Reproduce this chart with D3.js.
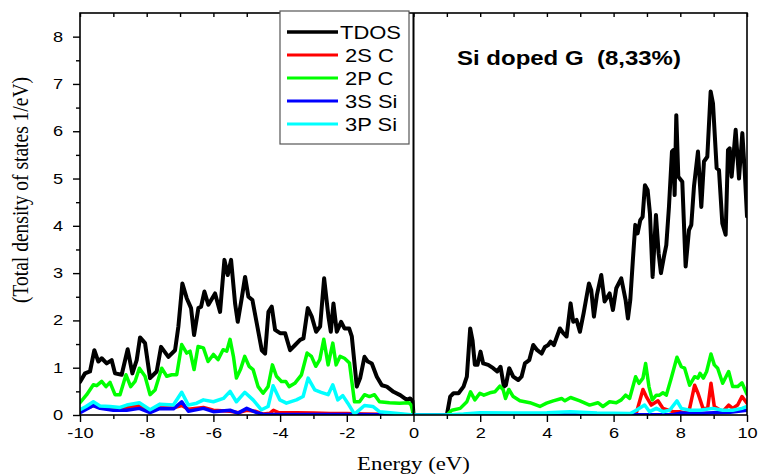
<!DOCTYPE html>
<html>
<head>
<meta charset="utf-8">
<script src="https://cdn.jsdelivr.net/npm/d3@7"></script>
<style>
  html, body { margin: 0; padding: 0; background: #fff; }
  svg { display: block; }
</style>
</head>
<body>
<svg id="chart" width="758" height="475"></svg>
<script>
// ---------- DATA ----------
const seriesNames = ["TDOS", "2S C", "2P C", "3S Si", "3P Si"];
const seriesColors = ["#000000", "#ff0000", "#00ff00", "#0000ff", "#00ffff"];

const tdosE = [-10,-9.85,-9.7,-9.57,-9.45,-9.35,-9.2,-9.05,-8.95,-8.75,-8.57,-8.43,-8.3,-8.2,-8.05,-7.9,-7.7,-7.57,-7.35,-7.15,-7.05,-6.93,-6.8,-6.67,-6.58,-6.45,-6.37,-6.27,-6.15,-5.95,-5.8,-5.67,-5.57,-5.47,-5.35,-5.27,-5.15,-5.05,-4.95,-4.83,-4.7,-4.55,-4.45,-4.35,-4.25,-4.15,-4.0,-3.85,-3.7,-3.55,-3.4,-3.3,-3.17,-3.05,-2.92,-2.8,-2.68,-2.55,-2.48,-2.4,-2.3,-2.17,-2.07,-1.93,-1.85,-1.7,-1.6,-1.47,-1.37,-1.25,-1.1,-0.95,-0.8,-0.6,-0.4,-0.2,-0.1,-0.03,0,1.0,1.1,1.2,1.35,1.5,1.6,1.7,1.77,1.84,1.92,2.01,2.09,2.24,2.39,2.51,2.61,2.71,2.77,2.87,2.99,3.14,3.24,3.34,3.47,3.59,3.71,3.84,3.94,4.04,4.11,4.21,4.39,4.49,4.59,4.71,4.79,4.89,4.99,5.1,5.26,5.33,5.41,5.5,5.63,5.73,5.88,5.98,6.08,6.23,6.36,6.43,6.5,6.58,6.65,6.72,6.8,6.87,6.94,7.02,7.09,7.17,7.27,7.35,7.42,7.51,7.58,7.66,7.75,7.79,7.83,7.88,7.94,8.06,8.16,8.26,8.33,8.41,8.53,8.63,8.71,8.81,8.91,8.98,9.09,9.16,9.26,9.36,9.43,9.48,9.54,9.66,9.76,9.86,9.93,10];
const tdosV = [0.70,0.88,0.92,1.37,1.13,1.2,1.09,1.16,0.88,0.85,1.39,0.88,1.16,1.64,1.52,0.78,0.92,1.44,1.23,1.37,1.87,2.78,2.47,2.26,1.69,2.26,2.29,2.61,2.33,2.57,2.18,3.28,2.96,3.28,2.36,1.97,2.47,2.92,2.50,2.43,1.94,1.37,1.30,2.18,2.29,1.80,1.73,1.73,1.37,1.48,1.59,1.62,2.26,2.08,1.76,1.87,2.89,2.08,1.76,2.36,1.76,1.97,1.83,1.83,1.66,0.60,0.78,1.23,1.13,1.09,0.81,0.63,0.6,0.49,0.42,0.32,0.35,0.3,0.0,0,0.39,0.46,0.46,0.6,0.81,1.83,1.58,1.06,1.06,1.34,1.09,1.06,0.99,0.92,1.02,0.60,0.63,0.99,0.81,0.74,0.81,1.09,1.16,1.48,1.37,1.3,1.44,1.48,1.55,1.48,1.83,1.73,1.66,2.36,1.97,2.01,1.76,2.15,2.78,2.64,2.08,2.54,2.96,2.4,2.57,2.22,2.68,2.89,2.43,2.04,2.43,3.3,4.02,3.84,4.12,4.19,4.86,4.76,4.26,2.92,4.23,3.42,3.0,3.35,3.59,4.4,5.57,5.6,4.65,6.34,5.04,4.93,3.14,3.91,4.02,4.83,5.57,4.4,5.36,5.46,6.84,6.59,5.22,5.18,4.05,3.81,5.6,5.64,5.04,6.03,5.0,5.96,5.18,4.2];

const s2cE = [-10,-9.6,-9.4,-9.0,-8.6,-8.22,-7.9,-7.6,-7.2,-6.95,-6.75,-6.3,-6.0,-5.5,-5.25,-5.0,-4.75,-4.5,-4.3,-4.2,-4.05,-3.5,-3.0,-2.5,-2.0,-1.5,-0.5,0,1.0,2,4,4.7,5,6.5,6.68,6.88,6.98,7.13,7.33,7.48,7.78,7.98,8.18,8.28,8.43,8.53,8.68,8.82,8.92,9.02,9.27,9.45,9.57,9.72,9.85,10];
const s2cV = [0.08,0.2,0.16,0.12,0.15,0.2,0.08,0.15,0.15,0.2,0.12,0.16,0.1,0.08,0.05,0.1,0.08,0.02,0.04,0.1,0.05,0.05,0.04,0.03,0.03,0.02,0.01,0,0,0.01,0.02,0.04,0.02,0.02,0.04,0.54,0.39,0.21,0.3,0.14,0.07,0.07,0.04,0.14,0.63,0.46,0.14,0.14,0.67,0.18,0.07,0.21,0.14,0.21,0.39,0.25];

const p2cE = [-10,-9.8,-9.6,-9.5,-9.35,-9.22,-9.1,-8.95,-8.8,-8.62,-8.48,-8.35,-8.22,-8.05,-7.9,-7.75,-7.55,-7.4,-7.25,-7.1,-6.95,-6.8,-6.7,-6.58,-6.46,-6.3,-6.16,-6.0,-5.86,-5.71,-5.6,-5.5,-5.4,-5.31,-5.19,-5.06,-4.93,-4.81,-4.66,-4.51,-4.36,-4.23,-4.11,-3.96,-3.83,-3.73,-3.56,-3.36,-3.19,-3.06,-2.93,-2.81,-2.69,-2.56,-2.42,-2.32,-2.2,-2.07,-1.92,-1.77,-1.62,-1.47,-1.32,-1.17,-1.02,-0.72,-0.42,-0.14,-0.07,0,1.0,1.15,1.4,1.6,1.71,1.84,1.99,2.11,2.29,2.44,2.59,2.69,2.76,2.86,2.99,3.19,3.49,3.79,3.99,4.19,4.44,4.54,4.71,4.99,5.28,5.53,5.68,5.88,6.08,6.23,6.36,6.48,6.66,6.76,6.88,6.96,7.06,7.16,7.28,7.38,7.48,7.58,7.73,7.9,8.03,8.13,8.28,8.43,8.53,8.59,8.69,8.79,8.92,9.02,9.12,9.27,9.45,9.57,9.72,9.85,10];
const p2cV = [0.26,0.43,0.64,0.62,0.71,0.60,0.69,0.43,0.43,0.85,0.60,0.71,0.99,0.82,0.43,0.53,0.99,0.82,0.85,0.85,1.49,1.31,1.35,0.96,1.45,1.42,1.13,1.28,1.17,1.38,1.35,1.6,1.24,0.78,0.96,1.24,1.03,0.96,0.6,0.46,0.60,1.06,0.82,0.71,0.71,0.6,0.67,0.85,1.31,1.24,1.03,1.17,1.6,1.06,1.52,1.06,1.24,1.2,1.1,0.28,0.28,0.43,0.39,0.43,0.28,0.26,0.25,0.26,0.21,0,0,0.1,0.14,0.28,0.49,0.32,0.46,0.42,0.47,0.49,0.61,0.53,0.35,0.54,0.39,0.3,0.26,0.18,0.25,0.3,0.35,0.3,0.37,0.3,0.21,0.26,0.18,0.28,0.26,0.32,0.42,0.35,0.81,0.67,0.78,1.09,0.6,0.32,0.42,0.42,0.47,0.42,0.78,1.22,1.02,0.99,0.63,0.81,0.78,0.88,0.78,0.92,1.29,1.06,0.99,0.67,0.92,0.6,0.6,0.68,0.44];

const s3siE = [-10,-9.6,-9.4,-9.0,-8.6,-8.22,-7.9,-7.6,-7.2,-6.95,-6.75,-6.3,-6.0,-5.5,-5.26,-5.0,-4.7,-4.5,-2,0,1,7.8,8.0,8.5,9.0,9.5,10];
const s3siV = [0.05,0.2,0.14,0.1,0.1,0.14,0.05,0.14,0.13,0.28,0.08,0.14,0.07,0.1,0.04,0.14,0.05,0.01,0.01,0,0,0.01,0.04,0.03,0.05,0.06,0.1];

const p3siE = [-10,-9.82,-9.6,-9.4,-9.1,-8.8,-8.6,-8.22,-7.9,-7.6,-7.2,-6.95,-6.75,-6.5,-6.3,-6.0,-5.7,-5.5,-5.31,-5.06,-4.81,-4.56,-4.36,-4.21,-4.01,-3.81,-3.51,-3.31,-3.16,-2.96,-2.77,-2.56,-2.42,-2.27,-2.12,-1.97,-1.77,-1.62,-1.47,-1.22,-1.02,-0.62,0,1.0,1.5,2.0,3.0,4.0,4.7,5.5,6.5,6.68,6.93,7.08,7.28,7.48,7.68,7.9,8.03,8.28,8.58,8.97,9.27,9.57,9.85,10];
const p3siV = [0.11,0.18,0.28,0.19,0.18,0.16,0.21,0.26,0.11,0.23,0.21,0.48,0.21,0.25,0.32,0.28,0.35,0.5,0.28,0.48,0.32,0.11,0.18,0.62,0.32,0.25,0.32,0.39,0.78,0.53,0.48,0.43,0.64,0.32,0.41,0.25,0.02,0.11,0.2,0.18,0.07,0.04,0,0,0.02,0.05,0.04,0.05,0.07,0.04,0.03,0.1,0.21,0.07,0.14,0.07,0.1,0.3,0.14,0.1,0.1,0.14,0.1,0.1,0.14,0.18];

const xMajorTicks = [-10,-8,-6,-4,-2,0,2,4,6,8,10];
const yMajorTicks = [0,1,2,3,4,5,6,7,8];
const titleText = "Si doped G  (8,33%)";
const xLabel = "Energy (eV)";
const yLabel = "(Total density of states 1/eV)";

// ---------- CHART ----------
const svg = d3.select("#chart");
const L = 80, R = 747, T = 13, B = 415;
const x = d3.scaleLinear().domain([-10, 10]).range([L, R]);
const y = d3.scaleLinear().domain([0, 8.5]).range([B, T]);
const sans = "'Liberation Sans', Arial, Helvetica, sans-serif";
const serif = "'Liberation Serif', 'Times New Roman', serif";

svg.append("defs").append("clipPath").attr("id", "clip")
  .append("rect").attr("x", L).attr("y", T).attr("width", R - L).attr("height", B - T);

const zip = (E, V) => E.map((e, i) => [e, V[i]]);
const series = [zip(tdosE, tdosV), zip(s2cE, s2cV), zip(p2cE, p2cV), zip(s3siE, s3siV), zip(p3siE, p3siV)];
const line = d3.line().x(d => x(d[0])).y(d => y(d[1]));

const gLines = svg.append("g").attr("clip-path", "url(#clip)");
series.forEach((s, i) => {
  gLines.append("path").datum(s)
    .attr("d", line)
    .attr("fill", "none")
    .attr("stroke", seriesColors[i])
    .attr("stroke-width", i === 0 ? 4 : 3.5)
    .attr("stroke-linejoin", "round")
    .attr("stroke-linecap", "round");
});

// frame
svg.append("rect").attr("x", L).attr("y", T).attr("width", R - L).attr("height", B - T)
  .attr("fill", "none").attr("stroke", "#000").attr("stroke-width", 1.6);
svg.append("line").attr("x1", x(0)).attr("x2", x(0)).attr("y1", T).attr("y2", B)
  .attr("stroke", "#000").attr("stroke-width", 2);

// axes
const xMinor = d3.range(-9, 10, 2);
const yMinor = d3.range(0.5, 8.5, 1);

const gx = svg.append("g").attr("transform", `translate(0,${B})`)
  .call(d3.axisBottom(x).tickValues(xMajorTicks).tickSize(7).tickSizeOuter(0).tickPadding(6).tickFormat(d => String(d)));
svg.append("g").attr("transform", `translate(0,${B})`)
  .call(d3.axisBottom(x).tickValues(xMinor).tickSize(4).tickSizeOuter(0).tickFormat(""));
svg.append("g").attr("transform", `translate(0,${T})`)
  .call(d3.axisTop(x).tickValues(d3.range(-10, 11, 1)).tickSize(-4).tickSizeOuter(0).tickFormat(""));
const gy = svg.append("g").attr("transform", `translate(${L},0)`)
  .call(d3.axisLeft(y).tickValues(yMajorTicks).tickSize(7).tickSizeOuter(0).tickPadding(6).tickFormat(d => String(d)));
svg.append("g").attr("transform", `translate(${L},0)`)
  .call(d3.axisLeft(y).tickValues(yMinor).tickSize(4).tickSizeOuter(0).tickFormat(""));

svg.selectAll(".domain").remove();
svg.selectAll(".tick line").attr("stroke", "#000").attr("stroke-width", 1.4);
[gx, gy].forEach(g => g.selectAll("text")
  .attr("font-family", sans).attr("font-size", 14).attr("fill", "#000")
  .attr("transform", "scale(1.3,1)"));

// axis labels
svg.append("text")
  .attr("transform", `translate(${x(0)},470) scale(1.2,1)`)
  .attr("text-anchor", "middle").attr("font-family", serif).attr("font-size", 19)
  .text(xLabel);
svg.append("text")
  .attr("transform", `translate(28,190) scale(1.15,1) rotate(-90)`)
  .attr("text-anchor", "middle").attr("font-family", serif).attr("font-size", 19.5)
  .text(yLabel);

// title
svg.append("text")
  .attr("transform", `translate(457,65) scale(1.2,1)`)
  .attr("font-family", sans).attr("font-size", 20).attr("font-weight", "bold")
  .style("white-space", "pre")
  .text(titleText);

// legend
const lg = svg.append("g");
lg.append("rect").attr("x", 280).attr("y", 11).attr("width", 129).attr("height", 133)
  .attr("fill", "#fff").attr("stroke", "#555").attr("stroke-width", 1.2);
const rowY = [32, 55, 78, 101, 124];
const textX = [340, 345, 345, 345, 345];
seriesNames.forEach((n, i) => {
  lg.append("line").attr("x1", 287).attr("x2", 338).attr("y1", rowY[i]).attr("y2", rowY[i])
    .attr("stroke", seriesColors[i]).attr("stroke-width", i === 0 ? 3.4 : 3);
  lg.append("text")
    .attr("transform", `translate(${textX[i]},${rowY[i] + 6.5}) scale(1.22,1)`)
    .attr("font-family", sans).attr("font-size", 18).attr("fill", "#000")
    .text(n);
});
</script>
</body>
</html>
